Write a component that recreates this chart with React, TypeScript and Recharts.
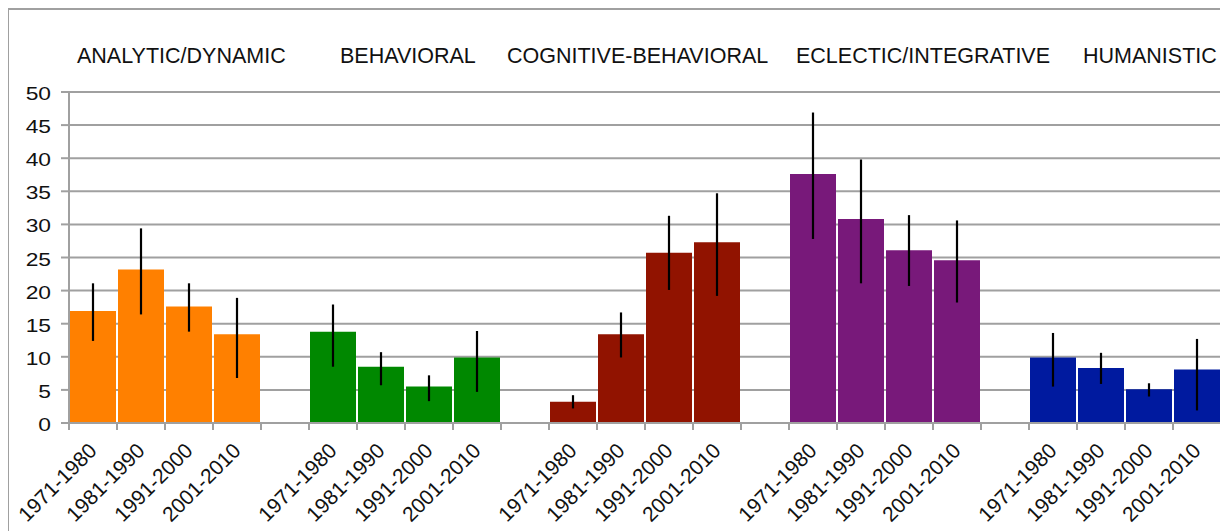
import React from "react";
import { BarChart, Bar, Cell, XAxis, YAxis, CartesianGrid, ErrorBar } from "recharts";

// categories
const groups = ["ANALYTIC/DYNAMIC", "BEHAVIORAL", "COGNITIVE-BEHAVIORAL", "ECLECTIC/INTEGRATIVE", "HUMANISTIC"];
const periods = ["1971-1980", "1981-1990", "1991-2000", "2001-2010"];
const groupColors = ["#ff8000", "#008800", "#911300", "#78197a", "#001a9f"];

// bar heights per group (by period)
const analytic = [16.9, 23.2, 17.6, 13.4];
const behavioral = [13.8, 8.5, 5.5, 9.9];
const cognitive = [3.2, 13.4, 25.7, 27.3];
const eclectic = [37.6, 30.8, 26.1, 24.6];
const humanistic = [9.9, 8.3, 5.1, 8.1];

// error bar ends (low / high)
const analyticLo = [12.4, 16.4, 13.8, 6.8];
const analyticHi = [21.1, 29.4, 21.1, 18.9];
const behavioralLo = [8.5, 5.7, 3.3, 4.7];
const behavioralHi = [17.9, 10.7, 7.2, 13.9];
const cognitiveLo = [2.2, 9.9, 20.1, 19.2];
const cognitiveHi = [4.2, 16.7, 31.3, 34.7];
const eclecticLo = [27.8, 21.1, 20.7, 18.2];
const eclecticHi = [46.9, 39.8, 31.4, 30.6];
const humanisticLo = [5.5, 5.9, 4.0, 1.9];
const humanisticHi = [13.6, 10.6, 6.0, 12.7];

const yTicks = [0, 5, 10, 15, 20, 25, 30, 35, 40, 45, 50];

const values = [analytic, behavioral, cognitive, eclectic, humanistic];
const lows = [analyticLo, behavioralLo, cognitiveLo, eclecticLo, humanisticLo];
const highs = [analyticHi, behavioralHi, cognitiveHi, eclecticHi, humanisticHi];

type Row = { key: string; label: string; value: number | null; err?: [number, number]; color: string };

const rows: Row[] = [];
groups.forEach((g, gi) => {
  periods.forEach((p, pi) => {
    const v = values[gi][pi];
    rows.push({
      key: `${g}|${p}`,
      label: p,
      value: v,
      err: [v - lows[gi][pi], highs[gi][pi] - v],
      color: groupColors[gi],
    });
  });
  // empty slot between the groups
  if (gi < groups.length - 1) rows.push({ key: `gap${gi}`, label: "", value: null, color: "none" });
});

const W = 1220;
const H = 523;
const M = { top: 84, right: 7, left: 0, bottom: 0 };
const Y_W = 61;
const X_H = 108;
const BAND = (W - M.left - M.right - Y_W) / rows.length;
const GRID = "#a0a0a0";
const FONT = "'Liberation Sans', Arial, Helvetica, sans-serif";

// title x positions (left edge), baseline y
const titleX = [69, 332, 499, 788, 1075];
const TITLE_Y = 55;

function PeriodTick(props: any) {
  const { x, y, index } = props;
  const row = rows[index];
  const tx = x + 5;
  const ty = y + 29;
  return (
    <g>
      <line x1={x - BAND / 2} x2={x - BAND / 2} y1={y} y2={y + 7} stroke={GRID} strokeWidth={2} />
      {index === rows.length - 1 && (
        <line x1={x + BAND / 2} x2={x + BAND / 2} y1={y} y2={y + 7} stroke={GRID} strokeWidth={2} />
      )}
      {row && row.label && (
        <text x={tx} y={ty} transform={`rotate(-45, ${tx}, ${ty})`} textAnchor="end" fontSize={21} fill="#111">
          {row.label}
        </text>
      )}
    </g>
  );
}

// y labels look a bit stretched sideways in the original
function ValueTick(props: any) {
  const { x, y, payload } = props;
  return (
    <text transform={`translate(${x}, ${y + 8}) scale(1.2, 1)`} textAnchor="end" fontSize={19} fill="#111">
      {payload.value}
    </text>
  );
}

export default function App() {
  return (
    <div style={{ position: "relative", width: W, height: H, fontFamily: FONT, background: "#fff" }}>
      <BarChart width={W} height={H} data={rows} margin={M} barCategoryGap={1} style={{ fontFamily: FONT }}>
        <CartesianGrid vertical={false} stroke={GRID} strokeWidth={2} />
        <XAxis
          dataKey="key"
          interval={0}
          height={X_H}
          tickSize={0}
          tickMargin={0}
          tick={<PeriodTick />}
          axisLine={{ stroke: GRID, strokeWidth: 2 }}
        />
        <YAxis
          domain={[0, 50]}
          ticks={yTicks}
          width={Y_W}
          tickSize={8}
          tickMargin={10}
          tick={<ValueTick />}
          tickLine={{ stroke: GRID, strokeWidth: 2 }}
          axisLine={{ stroke: GRID, strokeWidth: 2 }}
        />
        <Bar dataKey="value" isAnimationActive={false}>
          {rows.map((r) => (
            <Cell key={r.key} fill={r.color} />
          ))}
          <ErrorBar dataKey="err" width={0} stroke="#000" strokeWidth={2.2} direction="y" />
        </Bar>
      </BarChart>
      <svg width={W} height={H} style={{ position: "absolute", left: 0, top: 0, pointerEvents: "none" }}>
        {groups.map((g, i) => (
          <text key={g} x={titleX[i]} y={TITLE_Y} fontSize={21.5} fill="#111" fontFamily={FONT}>
            {g}
          </text>
        ))}
      </svg>
      <div
        style={{
          position: "absolute",
          left: -1,
          top: 0,
          width: W + 1,
          height: H,
          boxSizing: "border-box",
          borderTop: `2px solid ${GRID}`,
          borderLeft: `2px solid ${GRID}`,
          pointerEvents: "none",
        }}
      />
    </div>
  );
}
